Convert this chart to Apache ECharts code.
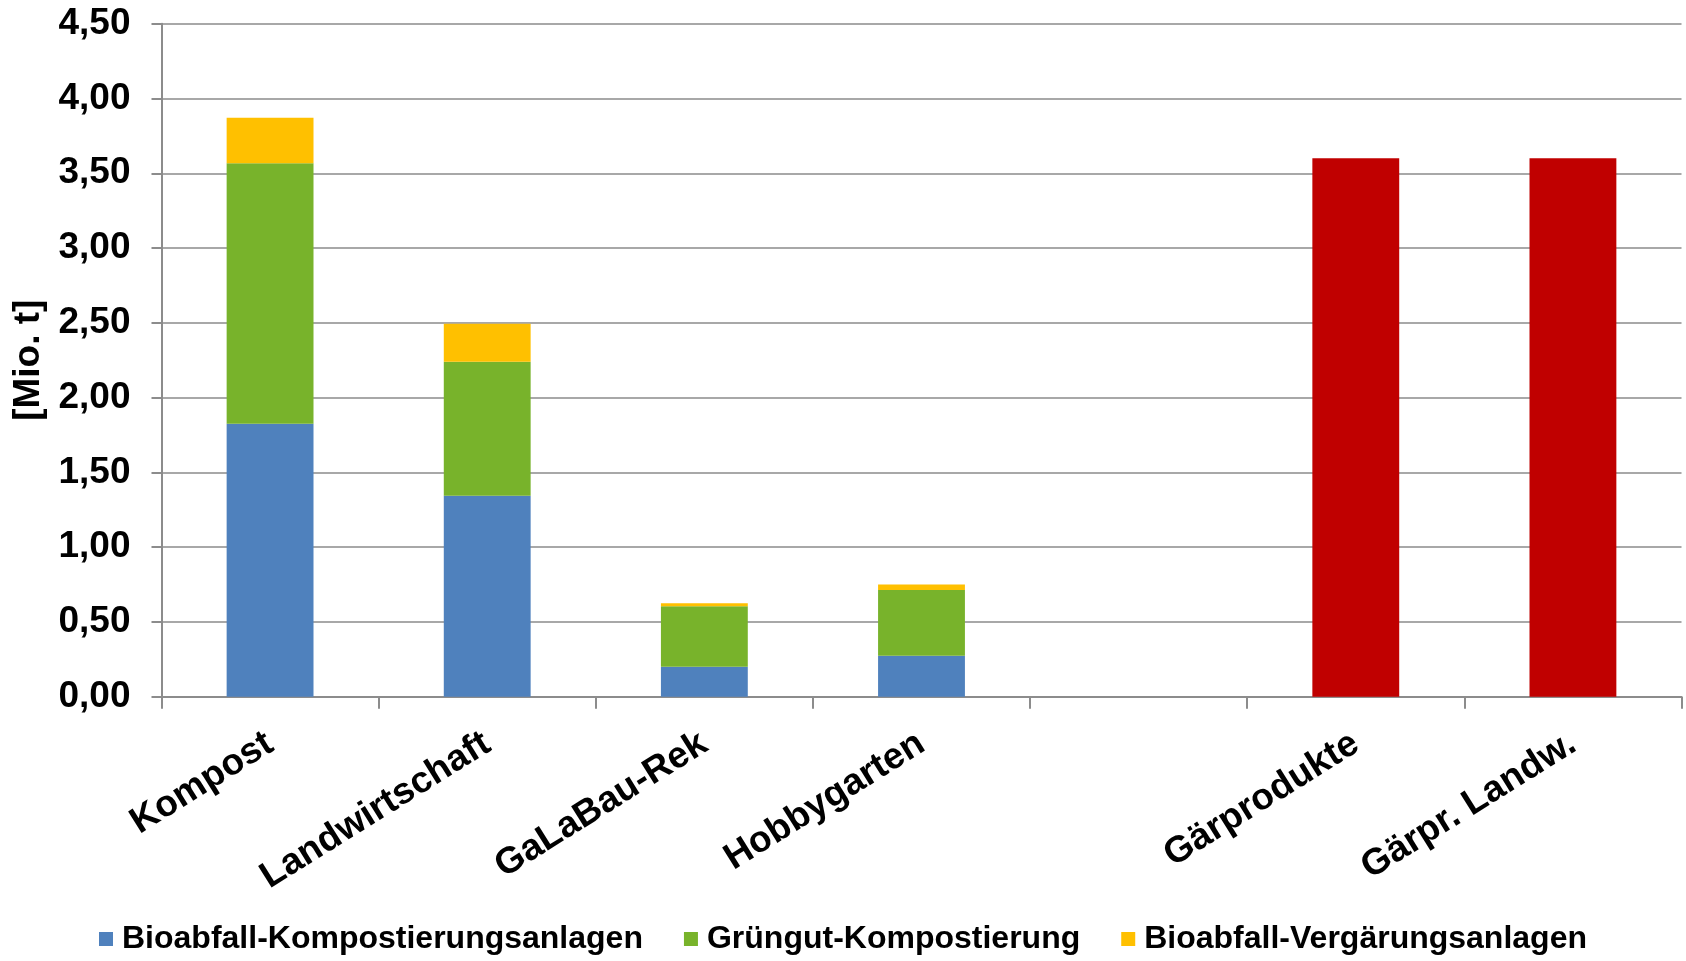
<!DOCTYPE html>
<html>
<head>
<meta charset="utf-8">
<script src="https://cdn.jsdelivr.net/npm/echarts@6/dist/echarts.min.js"></script>
<style>
html,body{margin:0;padding:0;background:#fff;}
#chart{width:1686px;height:961px;}
</style>
</head>
<body>
<div id="chart"></div>
<script>
const categories = ['Kompost', 'Landwirtschaft', 'GaLaBau-Rek', 'Hobbygarten', '', 'Gärprodukte', 'Gärpr. Landw.'];
const seriesNames = ['Bioabfall-Kompostierungsanlagen', 'Grüngut-Kompostierung', 'Bioabfall-Vergärungsanlagen'];
const bioKompost = [1.825, 1.344, 0.20, 0.273, null, null, null];
const gruengut = [1.742, 0.895, 0.405, 0.44, null, null, null];
const bioVergaerung = [0.304, 0.255, 0.02, 0.038, null, null, null];
const gaerprodukte = [null, null, null, null, null, 3.60, 3.60];
const yTicks = { min: 0, max: 4.5, interval: 0.5 };

const FONT = "'Liberation Sans', Arial, sans-serif";
const chart = echarts.init(document.getElementById('chart'));
const gridColor = '#A8A8A8';
const axisColor = '#8C8C8C';

chart.setOption({
  animation: false,
  backgroundColor: '#ffffff',
  textStyle: { fontFamily: FONT },
  grid: { left: 161.5, right: 4.5, top: 23.7, bottom: 264.3, containLabel: false },
  legend: {
    data: seriesNames,
    left: 'center',
    top: 918,
    itemWidth: 14,
    itemHeight: 14,
    itemGap: 41,
    icon: 'rect',
    textStyle: { fontFamily: FONT, fontSize: 32, fontWeight: 'bold', color: '#000', padding: [0, 0, 0, 4] }
  },
  xAxis: {
    type: 'category',
    data: categories,
    boundaryGap: true,
    axisLine: { show: true, lineStyle: { color: axisColor, width: 2 } },
    axisTick: { show: true, length: 12, lineStyle: { color: axisColor, width: 2 }, alignWithLabel: false, interval: 0 },
    axisLabel: {
      interval: 0,
      rotate: 32,
      margin: 44,
      align: 'right',
      verticalAlign: 'middle',
      fontFamily: FONT,
      fontSize: 37,
      fontWeight: 'bold',
      color: '#000'
    },
    splitLine: { show: false }
  },
  yAxis: {
    type: 'value',
    min: yTicks.min,
    max: yTicks.max,
    interval: yTicks.interval,
    name: '[Mio. t]',
    nameLocation: 'middle',
    nameGap: 114,
    nameRotate: 90,
    nameTextStyle: { fontFamily: FONT, fontSize: 37, fontWeight: 'bold', color: '#000' },
    axisLine: { show: true, lineStyle: { color: axisColor, width: 2 } },
    axisTick: { show: true, inside: false, length: 10, lineStyle: { color: axisColor, width: 2 } },
    axisLabel: {
      margin: 31,
      fontFamily: FONT,
      fontSize: 37,
      fontWeight: 'bold',
      color: '#000',
      formatter: v => v.toFixed(2).replace('.', ',')
    },
    splitLine: { show: true, lineStyle: { color: gridColor, width: 2 } }
  },
  series: [
    { name: seriesNames[0], type: 'bar', stack: 'a', barWidth: '40%', data: bioKompost, itemStyle: { color: '#4F81BD' } },
    { name: seriesNames[1], type: 'bar', stack: 'a', data: gruengut, itemStyle: { color: '#78B32B' } },
    { name: seriesNames[2], type: 'bar', stack: 'a', data: bioVergaerung, itemStyle: { color: '#FFC000' } },
    { name: 'Gärprodukte', type: 'bar', stack: 'a', data: gaerprodukte, itemStyle: { color: '#C00000' } }
  ]
});
</script>
</body>
</html>
